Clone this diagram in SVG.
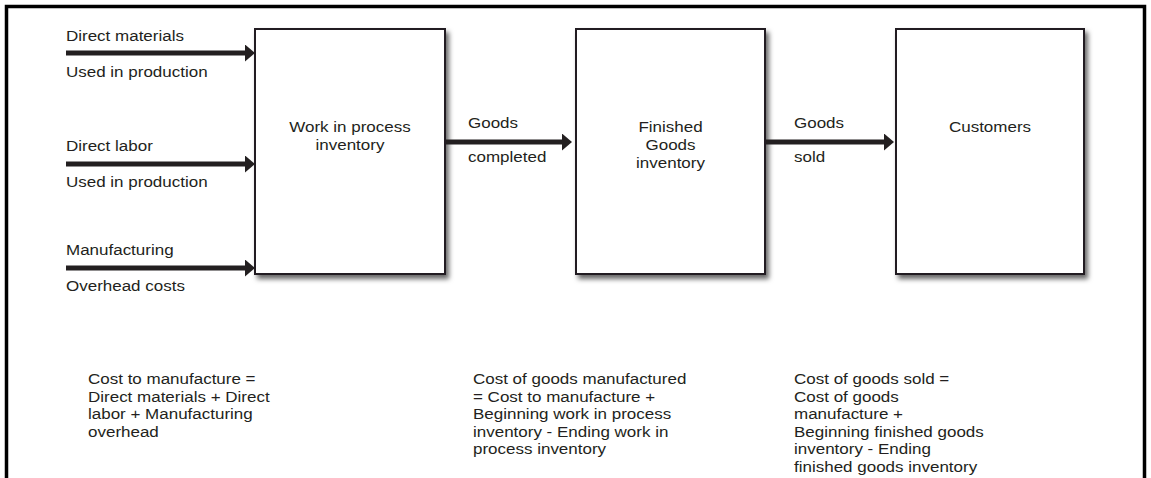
<svg xmlns="http://www.w3.org/2000/svg" width="1151" height="478" viewBox="0 0 1151 478">
<style>
text { font-family: "Liberation Sans", Arial, sans-serif; font-size: 15px; fill: #231f20; transform: scaleX(1.133); transform-box: fill-box; transform-origin: 0 0; }
text.mid { text-anchor: middle; transform-origin: 50% 0; }
.box { fill: #ffffff; stroke: #231f20; stroke-width: 2; filter: url(#shadow); }
.arrow { stroke: #231f20; stroke-width: 5; fill: none; marker-end: url(#head); }
</style>
<defs>
<filter id="shadow" x="-10%" y="-10%" width="130%" height="130%">
<feDropShadow dx="3" dy="4" stdDeviation="2.5" flood-color="#000000" flood-opacity="0.6"/>
</filter>
<marker id="head" markerUnits="userSpaceOnUse" viewBox="0 0 10 17" refX="1" refY="8.5" markerWidth="10" markerHeight="17" orient="auto">
<path d="M0,0 L10,8.5 L0,17 Z" fill="#231f20"/>
</marker>
</defs>
<rect width="1151" height="478" fill="#ffffff"/>
<path id="frame" d="M6.5,478 V6.5 H1144.5 V478" fill="none" stroke="#000000" stroke-width="3.5"/>

<g id="wip">
<rect class="box" x="255" y="29" width="190" height="245"/>
<text class="mid" x="350" y="132">Work in process</text>
<text class="mid" x="350" y="150">inventory</text>
</g>
<g id="finished">
<rect class="box" x="576" y="29" width="189" height="245"/>
<text class="mid" x="670.5" y="132">Finished</text>
<text class="mid" x="670.5" y="150">Goods</text>
<text class="mid" x="670.5" y="168">inventory</text>
</g>
<g id="customers">
<rect class="box" x="896" y="29" width="188" height="245"/>
<text class="mid" x="990" y="132">Customers</text>
</g>

<g id="connectors">
<line class="arrow" x1="66" y1="53" x2="246" y2="53"/>
<line class="arrow" x1="66" y1="164" x2="246" y2="164"/>
<line class="arrow" x1="66" y1="268" x2="246" y2="268"/>
<line class="arrow" x1="446" y1="142" x2="563" y2="142"/>
<line class="arrow" x1="766" y1="142" x2="885" y2="142"/>
</g>

<g id="arrow-labels">
<text x="66" y="41">Direct materials</text>
<text x="66" y="77">Used in production</text>
<text x="66" y="151">Direct labor</text>
<text x="66" y="187">Used in production</text>
<text x="66" y="255">Manufacturing</text>
<text x="66" y="291">Overhead costs</text>
<text x="468" y="128">Goods</text>
<text x="468" y="162">completed</text>
<text x="794" y="128">Goods</text>
<text x="794" y="162">sold</text>
</g>

<g id="notes">
<text x="88" y="384">Cost to manufacture =</text>
<text x="88" y="401.6">Direct materials + Direct</text>
<text x="88" y="419.2">labor + Manufacturing</text>
<text x="88" y="436.8">overhead</text>

<text x="473" y="384">Cost of goods manufactured</text>
<text x="473" y="401.6">= Cost to manufacture +</text>
<text x="473" y="419.2">Beginning work in process</text>
<text x="473" y="436.8">inventory - Ending work in</text>
<text x="473" y="454.4">process inventory</text>

<text x="794" y="384">Cost of goods sold =</text>
<text x="794" y="401.6">Cost of goods</text>
<text x="794" y="419.2">manufacture +</text>
<text x="794" y="436.8">Beginning finished goods</text>
<text x="794" y="454.4">inventory - Ending</text>
<text x="794" y="472">finished goods inventory</text>
</g>
</svg>
